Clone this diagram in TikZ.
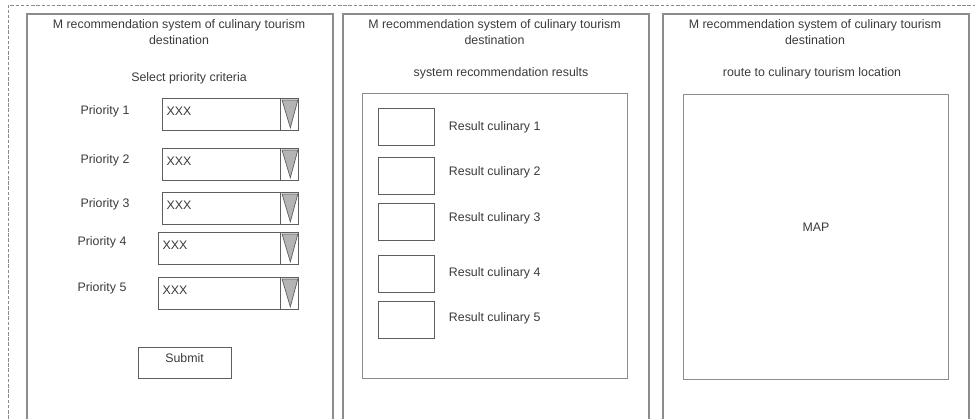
\documentclass[tikz,border=0pt]{standalone}
\usepackage{fontspec}
\setmainfont{Liberation Sans}
\usepackage{xcolor}
\usepackage{tikz}
\usetikzlibrary{positioning, calc}

\definecolor{frameline}{HTML}{8C8C8C}
\definecolor{boxline}{HTML}{5E5E5E}
\definecolor{inktext}{HTML}{3A3A3A}
\definecolor{tripart}{HTML}{B4B4B4}

\begin{document}
\begin{tikzpicture}[
    font=\fontsize{8.8}{11.4}\selectfont, text=inktext,
    screen/.style={rectangle, draw=frameline, line width=1.2pt, anchor=north west, minimum width=7.65cm, minimum height=10.6cm},
    heading/.style={align=center},
    field/.style={rectangle, draw=boxline, line width=0.7pt, anchor=north west, minimum height=0.8cm, align=left, text depth=0.15cm, inner xsep=3pt},
    ddbtn/.style={rectangle, draw=boxline, line width=0.7pt, anchor=north east, minimum width=0.45cm, minimum height=0.8cm},
    ddtri/.style={fill=tripart, draw=boxline, line width=0.5pt},
    resbox/.style={rectangle, draw=boxline, line width=0.7pt, minimum width=1.4cm, minimum height=0.92cm},
    holder/.style={rectangle, draw=frameline, line width=1pt, anchor=north west},
    outline/.style={draw=frameline, line width=0.6pt, dash pattern=on 2.5pt off 1.2pt}
]
    \useasboundingbox (0,0) rectangle (24.375,-10.45);
    \clip (0,0) rectangle (24.375,-10.45);

    % --- Outer sheet ---
    \draw[outline] (0.2,-10.6) -- (0.2,-0.125) -- (24.6,-0.125);

    % --- Screens ---
    \node[screen] (p1) at (0.65,-0.325) {};
    \node[screen] (p2) at (8.55,-0.325) {};
    \node[screen] (p3) at (16.55,-0.325) {};

    % Headings
    \node[heading] (t1) at (4.475,-0.8) {M recommendation system of culinary tourism\\destination};
    \node[heading] (t2) at (12.3625,-0.8) {M recommendation system of culinary tourism\\destination};
    \node[heading] (t3) at (20.375,-0.8) {M recommendation system of culinary tourism\\destination};

    \node (s1) at (4.725,-1.95) {Select priority criteria};
    \node (s2) at (12.525,-1.825) {system recommendation results};
    \node (s3) at (20.3,-1.825) {route to culinary tourism location};

    % --- Screen 1: priority criteria ---
    \node (l1) at (2.625,-2.775) {Priority 1};
    \node (l2) at (2.625,-4.0) {Priority 2};
    \node (l3) at (2.625,-5.1) {Priority 3};
    \node (l4) at (2.55,-6.05) {Priority 4};
    \node (l5) at (2.55,-7.2) {Priority 5};

    \node[field, text width=3.19cm] (f1) at (4.05,-2.45) {XXX};
    \node[field, text width=3.19cm] (f2) at (4.05,-3.7) {XXX};
    \node[field, text width=3.19cm] (f3) at (4.05,-4.8) {XXX};
    \node[field, text width=3.29cm] (f4) at (3.95,-5.8) {XXX};
    \node[field, text width=3.29cm] (f5) at (3.95,-6.925) {XXX};

    % dropdown buttons
    \node[ddbtn] (d1) at (f1.north east) {};
    \node[ddbtn] (d2) at (f2.north east) {};
    \node[ddbtn] (d3) at (f3.north east) {};
    \node[ddbtn] (d4) at (f4.north east) {};
    \node[ddbtn] (d5) at (f5.north east) {};

    \path[ddtri] ($(d1.north west)+(0.05,-0.05)$) -- ($(d1.north east)+(-0.03,-0.05)$) -- ($(d1.south)+(0.02,0.08)$) -- cycle;
    \path[ddtri] ($(d2.north west)+(0.05,-0.05)$) -- ($(d2.north east)+(-0.03,-0.05)$) -- ($(d2.south)+(0.02,0.08)$) -- cycle;
    \path[ddtri] ($(d3.north west)+(0.05,-0.05)$) -- ($(d3.north east)+(-0.03,-0.05)$) -- ($(d3.south)+(0.02,0.08)$) -- cycle;
    \path[ddtri] ($(d4.north west)+(0.05,-0.05)$) -- ($(d4.north east)+(-0.03,-0.05)$) -- ($(d4.south)+(0.02,0.08)$) -- cycle;
    \path[ddtri] ($(d5.north west)+(0.05,-0.05)$) -- ($(d5.north east)+(-0.03,-0.05)$) -- ($(d5.south)+(0.02,0.08)$) -- cycle;

    \node[rectangle, draw=boxline, line width=0.7pt, minimum width=2.325cm, minimum height=0.775cm, text depth=0.22cm] (submit) at (4.6125,-9.0625) {Submit};

    % --- Screen 2: recommendation results ---
    \node[holder, minimum width=6.625cm, minimum height=7.125cm] (rlist) at (9.05,-2.325) {};

    \node[resbox] (r1) at (10.15,-3.175) {};
    \node[resbox] (r2) at (10.15,-4.4) {};
    \node[resbox] (r3) at (10.15,-5.55) {};
    \node[resbox] (r4) at (10.15,-6.85) {};
    \node[resbox] (r5) at (10.15,-7.99) {};

    \node[anchor=west] (rl1) at (11.1,-3.175) {Result culinary 1};
    \node[anchor=west] (rl2) at (11.1,-4.3) {Result culinary 2};
    \node[anchor=west] (rl3) at (11.1,-5.45) {Result culinary 3};
    \node[anchor=west] (rl4) at (11.1,-6.825) {Result culinary 4};
    \node[anchor=west] (rl5) at (11.1,-7.95) {Result culinary 5};

    % --- Screen 3: map ---
    \node[holder, minimum width=6.625cm, minimum height=7.125cm] (map) at (17.075,-2.35) {};
    \node (maptxt) at (20.4,-5.675) {MAP};

\end{tikzpicture}
\end{document}
